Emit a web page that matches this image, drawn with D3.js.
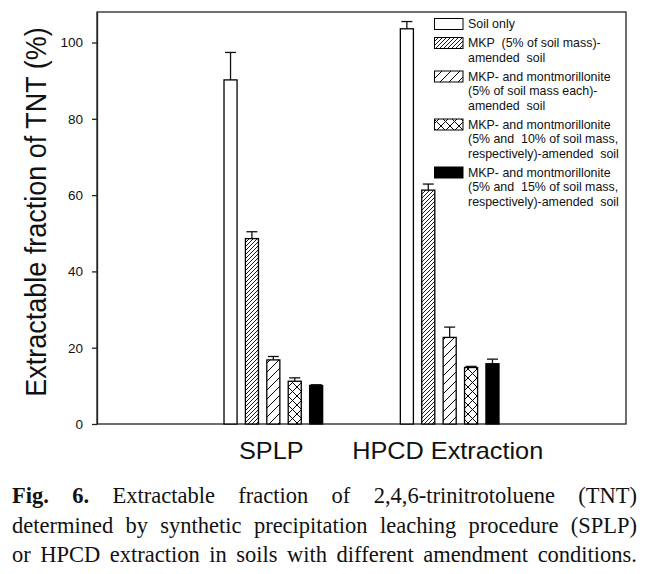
<!DOCTYPE html>
<html>
<head>
<meta charset="utf-8">
<script src="https://cdn.jsdelivr.net/npm/d3@7"></script>
<style>
  html, body { margin: 0; padding: 0; background: #fff; }
  svg { display: block; }
  .sans { font-family: "Liberation Sans", Arial, sans-serif; }
  .serif { font-family: "Liberation Serif", "Times New Roman", Times, serif; }
</style>
</head>
<body>
<svg id="chart" width="656" height="574"></svg>
<script>
// ---- data ----
const groups = ["SPLP", "HPCD Extraction"];
const seriesNames = [
  "Soil only",
  "MKP (5% of soil mass)-amended soil",
  "MKP- and montmorillonite (5% of soil mass each)-amended soil",
  "MKP- and montmorillonite (5% and 10% of soil mass, respectively)-amended soil",
  "MKP- and montmorillonite (5% and 15% of soil mass, respectively)-amended soil"
];
const legendLines = [
  ["Soil only"],
  ["MKP  (5% of soil mass)-", "amended  soil"],
  ["MKP- and montmorillonite", "(5% of soil mass each)-", "amended  soil"],
  ["MKP- and montmorillonite", "(5% and  10% of soil mass,", "respectively)-amended  soil"],
  ["MKP- and montmorillonite", "(5% and  15% of soil mass,", "respectively)-amended  soil"]
];
const splpValues = [90.2, 48.6, 16.8, 11.2, 10.1];
const splpErrors = [7.2, 1.8, 0.9, 0.9, 0.2];
const hpcdValues = [103.6, 61.3, 22.7, 14.8, 15.8];
const hpcdErrors = [1.9, 1.6, 2.7, 0.3, 1.2];
const yTicks = [0, 20, 40, 60, 80, 100];
const yLabel = "Extractable fraction of TNT (%)";
const captionLines = [
  {bold: "Fig. 6.", text: "Extractable fraction of 2,4,6-trinitrotoluene (TNT)"},
  {bold: "", text: "determined by synthetic precipitation leaching procedure (SPLP)"},
  {bold: "", text: "or HPCD extraction in soils with different amendment conditions."}
];
const fills = ["#fff", "url(#hatchDense)", "url(#hatchSparse)", "url(#cross)", "#000"];

// ---- layout ----
const svg = d3.select("#chart");
const pL = 97, pR = 626, pT = 12, pB = 424;

const x = d3.scalePoint().domain(groups).range([pL, pR]).padding(1);
const xi = d3.scaleBand().domain(d3.range(5)).range([-53.5, 53.5]).paddingInner(0.39).paddingOuter(0.195);
const y = d3.scaleLinear().domain([0, 108]).range([pB, pT]);

// patterns
const defs = svg.append("defs");
function hatch(id, size, cross, sw) {
  const p = defs.append("pattern").attr("id", id).attr("patternUnits", "userSpaceOnUse")
    .attr("width", size).attr("height", size);
  p.append("rect").attr("width", size).attr("height", size).attr("fill", "#fff");
  p.append("path").attr("d", `M${-size/2},${size/2} L${size/2},${-size/2} M0,${size} L${size},0 M${size/2},${size*1.5} L${size*1.5},${size/2}`)
    .attr("stroke", "#000").attr("stroke-width", sw).attr("fill", "none");
  if (cross) {
    p.append("path").attr("d", `M${-size/2},${size/2} L${size/2},${size*1.5} M0,0 L${size},${size} M${size/2},${-size/2} L${size*1.5},${size/2}`)
      .attr("stroke", "#000").attr("stroke-width", sw).attr("fill", "none");
  }
}
hatch("hatchDense", 4, false, 0.9);
hatch("hatchSparse", 9, false, 1);
hatch("cross", 9, true, 1);

// frame
svg.append("rect").attr("x", pL).attr("y", pT).attr("width", pR - pL).attr("height", pB - pT)
  .attr("fill", "none").attr("stroke", "#222").attr("stroke-width", 1.3);

// y axis
const yAxis = d3.axisLeft(y).tickValues(yTicks).tickSize(5).tickSizeOuter(0).tickPadding(9);
const ga = svg.append("g").attr("transform", `translate(${pL},0)`).call(yAxis);
ga.attr("font-family", null).attr("font-size", null).attr("class", "sans");
ga.select(".domain").attr("stroke", "#222").attr("stroke-width", 1.3);
ga.selectAll(".tick line").attr("stroke", "#222").attr("stroke-width", 1.3);
ga.selectAll(".tick text").attr("font-size", 13.5).attr("fill", "#111");

// bars
const data = [];
groups.forEach((g, gi) => {
  const vals = gi === 0 ? splpValues : hpcdValues;
  const errs = gi === 0 ? splpErrors : hpcdErrors;
  vals.forEach((v, i) => data.push({g, i, v, e: errs[i]}));
});
const bars = svg.append("g");
bars.selectAll("rect").data(data).join("rect")
  .attr("x", d => x(d.g) + xi(d.i))
  .attr("y", d => y(d.v))
  .attr("width", xi.bandwidth())
  .attr("height", d => y(0) - y(d.v))
  .attr("fill", d => fills[d.i])
  .attr("stroke", "#000").attr("stroke-width", 1.3);
// error bars (upper)
const eb = svg.append("g").attr("stroke", "#111").attr("stroke-width", 1.3);
eb.selectAll("line.v").data(data).join("line").attr("class", "v")
  .attr("x1", d => x(d.g) + xi(d.i) + xi.bandwidth()/2)
  .attr("x2", d => x(d.g) + xi(d.i) + xi.bandwidth()/2)
  .attr("y1", d => y(d.v)).attr("y2", d => y(d.v + d.e));
eb.selectAll("line.c").data(data).join("line").attr("class", "c")
  .attr("x1", d => x(d.g) + xi(d.i) + xi.bandwidth()/2 - 5.5)
  .attr("x2", d => x(d.g) + xi(d.i) + xi.bandwidth()/2 + 5.5)
  .attr("y1", d => y(d.v + d.e)).attr("y2", d => y(d.v + d.e));

// y label
svg.append("text").attr("class", "sans")
  .attr("transform", "translate(46,212) rotate(-90) scale(1,1.1)")
  .attr("text-anchor", "middle")
  .attr("font-size", 27).attr("fill", "#111")
  .text(yLabel);

// category labels
svg.selectAll("text.cat").data(groups).join("text").attr("class", "cat sans")
  .attr("transform", d => `translate(${x(d) - 2},459) scale(1.1,1)`)
  .attr("text-anchor", "middle")
  .attr("font-size", 23).attr("fill", "#111")
  .text(d => d);

// legend
const lg = svg.append("g").attr("class", "sans").attr("font-size", 12.4).attr("fill", "#111");
let base = 28;
legendLines.forEach((lines, i) => {
  lg.append("rect").attr("x", 434.5).attr("y", base - 9.5).attr("width", 28.5).attr("height", 11)
    .attr("fill", fills[i]).attr("stroke", "#000").attr("stroke-width", 1);
  lines.forEach((t, j) => {
    lg.append("text").attr("x", 468).attr("y", base + j * 14.5).style("white-space", "pre").text(t);
  });
  base += (lines.length - 1) * 14.5 + 19;
});

// caption (justified, glyphs compressed horizontally to a Times-like width)
const capL = 12, capR = 637;
const capBase = [503, 532.5, 562];
const cap = svg.append("g").attr("class", "serif").attr("fill", "#111");
const fs = 22.5;
function buildLine(li) {
  const g = cap.append("g");
  const words = [];
  const c = captionLines[li];
  if (c.bold) c.bold.split(" ").forEach(w => words.push({w, b: true}));
  c.text.split(" ").forEach(w => words.push({w, b: false}));
  const nodes = words.map(d => g.append("text").attr("font-size", fs)
    .attr("font-weight", d.b ? "bold" : "normal").text(d.w));
  const widths = nodes.map(n => n.node().getComputedTextLength());
  return {g, nodes, widths};
}
const test = buildLine(2);
const natural = d3.sum(test.widths) + 0.25 * fs * 0.85 * (test.widths.length - 1);
test.g.remove();
const sx = Math.min(1, (capR - capL) / natural);
[0, 1, 2].forEach(li => {
  const L = buildLine(li);
  const ws = L.widths.map(w => w * sx);
  const gap = (capR - capL - d3.sum(ws)) / (ws.length - 1);
  let xx = capL;
  L.nodes.forEach((n, k) => {
    n.attr("transform", `translate(${xx},${capBase[li]}) scale(${sx},1)`);
    xx += ws[k] + gap;
  });
});
</script>
</body>
</html>
